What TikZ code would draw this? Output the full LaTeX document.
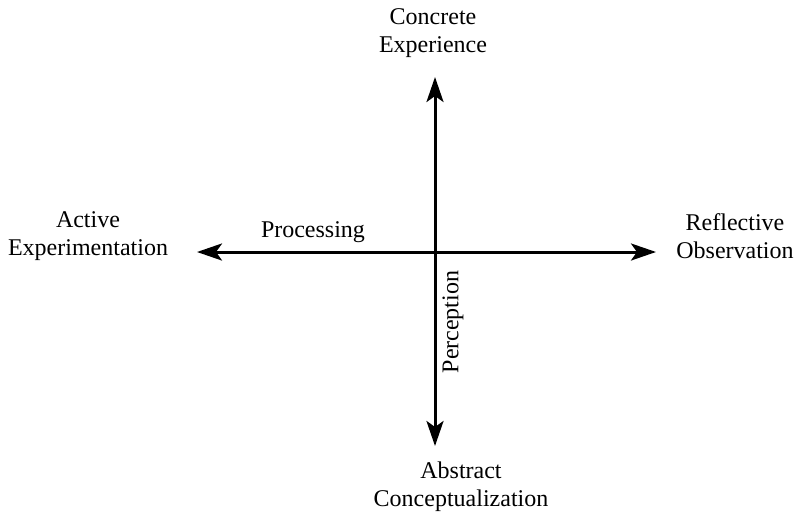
\documentclass[tikz,border=0pt]{standalone}
\usepackage{fontspec}
\setmainfont{Liberation Serif}
\usetikzlibrary{arrows.meta}
\begin{document}
\begin{tikzpicture}[x=1pt,y=-1pt,
  lbl/.style={align=center,font=\fontsize{24}{28}\selectfont,inner sep=0pt},
  axis/.style={line width=3pt,-{Stealth[length=25pt,width=17pt,inset=6pt]}}]
\useasboundingbox (0,0) rectangle (800,515);
\coordinate (c) at (435,252);
\coordinate (l) at (197,252);
\coordinate (r) at (656,252);
\coordinate (t) at (435,77);
\coordinate (b) at (435,446);
\draw[axis] (c) -- (l);
\draw[axis] (c) -- (r);
\draw[axis] (c) -- (t);
\draw[axis] (c) -- (b);
\node[lbl] (ce) at (433,33) {Concrete\\Experience};
\node[lbl] (ae) at (88,236) {Active\\Experimentation};
\node[lbl] (ro) at (735,236) {Reflective\\Observation};
\node[lbl] (ac) at (461,487) {Abstract\\Conceptualization};
\node[lbl] (pr) at (313,232) {Processing};
\node[lbl,rotate=90] (pe) at (453,322) {Perception};
\end{tikzpicture}
\end{document}
